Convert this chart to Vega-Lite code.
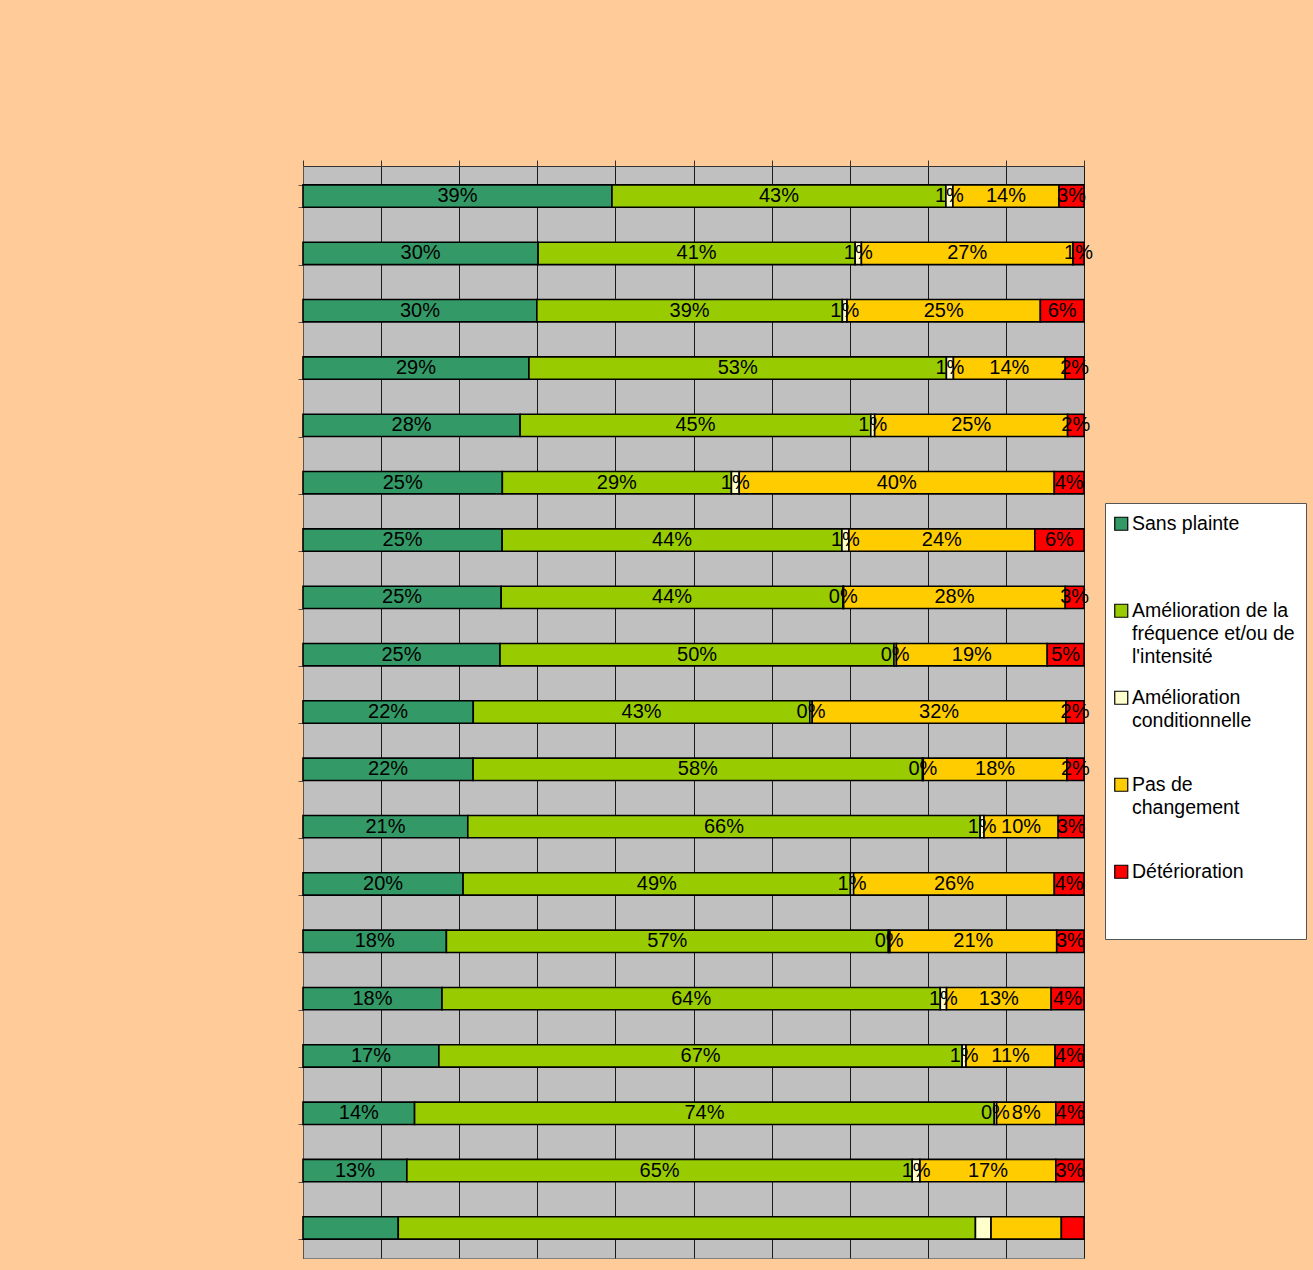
{
  "$schema": "https://vega.github.io/schema/vega-lite/v6.json",
  "autosize": {"type": "none"},
  "padding": {"left": 303, "top": 166, "right": 229, "bottom": 12},
  "width": 781,
  "height": 1092,
  "background": "#FFCC99",
  "config": {
    "view": {"fill": "#C0C0C0", "stroke": "#808080", "strokeWidth": 1},
    "font": "Liberation Sans"
  },
  "data": {
    "values": [
      {"q": 1, "s": "Sans plainte", "k": 1, "v": 39.6, "l": "39%"},
      {"q": 1, "s": "Amélioration de la fréquence et/ou de l'intensité", "k": 2, "v": 42.8, "l": "43%"},
      {"q": 1, "s": "Amélioration conditionnelle", "k": 3, "v": 0.9, "l": "1%"},
      {"q": 1, "s": "Pas de changement", "k": 4, "v": 13.6, "l": "14%"},
      {"q": 1, "s": "Détérioration", "k": 5, "v": 3.2, "l": "3%"},
      {"q": 2, "s": "Sans plainte", "k": 1, "v": 30.1, "l": "30%"},
      {"q": 2, "s": "Amélioration de la fréquence et/ou de l'intensité", "k": 2, "v": 40.6, "l": "41%"},
      {"q": 2, "s": "Amélioration conditionnelle", "k": 3, "v": 0.8, "l": "1%"},
      {"q": 2, "s": "Pas de changement", "k": 4, "v": 27.1, "l": "27%"},
      {"q": 2, "s": "Détérioration", "k": 5, "v": 1.4, "l": "1%"},
      {"q": 3, "s": "Sans plainte", "k": 1, "v": 30.0, "l": "30%"},
      {"q": 3, "s": "Amélioration de la fréquence et/ou de l'intensité", "k": 2, "v": 39.2, "l": "39%"},
      {"q": 3, "s": "Amélioration conditionnelle", "k": 3, "v": 0.6, "l": "1%"},
      {"q": 3, "s": "Pas de changement", "k": 4, "v": 24.8, "l": "25%"},
      {"q": 3, "s": "Détérioration", "k": 5, "v": 5.6, "l": "6%"},
      {"q": 4, "s": "Sans plainte", "k": 1, "v": 28.9, "l": "29%"},
      {"q": 4, "s": "Amélioration de la fréquence et/ou de l'intensité", "k": 2, "v": 53.4, "l": "53%"},
      {"q": 4, "s": "Amélioration conditionnelle", "k": 3, "v": 0.9, "l": "1%"},
      {"q": 4, "s": "Pas de changement", "k": 4, "v": 14.3, "l": "14%"},
      {"q": 4, "s": "Détérioration", "k": 5, "v": 2.4, "l": "2%"},
      {"q": 5, "s": "Sans plainte", "k": 1, "v": 27.8, "l": "28%"},
      {"q": 5, "s": "Amélioration de la fréquence et/ou de l'intensité", "k": 2, "v": 44.9, "l": "45%"},
      {"q": 5, "s": "Amélioration conditionnelle", "k": 3, "v": 0.5, "l": "1%"},
      {"q": 5, "s": "Pas de changement", "k": 4, "v": 24.7, "l": "25%"},
      {"q": 5, "s": "Détérioration", "k": 5, "v": 2.1, "l": "2%"},
      {"q": 6, "s": "Sans plainte", "k": 1, "v": 25.5, "l": "25%"},
      {"q": 6, "s": "Amélioration de la fréquence et/ou de l'intensité", "k": 2, "v": 29.3, "l": "29%"},
      {"q": 6, "s": "Amélioration conditionnelle", "k": 3, "v": 1.0, "l": "1%"},
      {"q": 6, "s": "Pas de changement", "k": 4, "v": 40.3, "l": "40%"},
      {"q": 6, "s": "Détérioration", "k": 5, "v": 3.8, "l": "4%"},
      {"q": 7, "s": "Sans plainte", "k": 1, "v": 25.5, "l": "25%"},
      {"q": 7, "s": "Amélioration de la fréquence et/ou de l'intensité", "k": 2, "v": 43.5, "l": "44%"},
      {"q": 7, "s": "Amélioration conditionnelle", "k": 3, "v": 0.9, "l": "1%"},
      {"q": 7, "s": "Pas de changement", "k": 4, "v": 23.8, "l": "24%"},
      {"q": 7, "s": "Détérioration", "k": 5, "v": 6.3, "l": "6%"},
      {"q": 8, "s": "Sans plainte", "k": 1, "v": 25.4, "l": "25%"},
      {"q": 8, "s": "Amélioration de la fréquence et/ou de l'intensité", "k": 2, "v": 43.8, "l": "44%"},
      {"q": 8, "s": "Amélioration conditionnelle", "k": 3, "v": 0.1, "l": "0%"},
      {"q": 8, "s": "Pas de changement", "k": 4, "v": 28.4, "l": "28%"},
      {"q": 8, "s": "Détérioration", "k": 5, "v": 2.4, "l": "3%"},
      {"q": 9, "s": "Sans plainte", "k": 1, "v": 25.2, "l": "25%"},
      {"q": 9, "s": "Amélioration de la fréquence et/ou de l'intensité", "k": 2, "v": 50.4, "l": "50%"},
      {"q": 9, "s": "Amélioration conditionnelle", "k": 3, "v": 0.3, "l": "0%"},
      {"q": 9, "s": "Pas de changement", "k": 4, "v": 19.3, "l": "19%"},
      {"q": 9, "s": "Détérioration", "k": 5, "v": 4.7, "l": "5%"},
      {"q": 10, "s": "Sans plainte", "k": 1, "v": 21.8, "l": "22%"},
      {"q": 10, "s": "Amélioration de la fréquence et/ou de l'intensité", "k": 2, "v": 43.1, "l": "43%"},
      {"q": 10, "s": "Amélioration conditionnelle", "k": 3, "v": 0.3, "l": "0%"},
      {"q": 10, "s": "Pas de changement", "k": 4, "v": 32.5, "l": "32%"},
      {"q": 10, "s": "Détérioration", "k": 5, "v": 2.3, "l": "2%"},
      {"q": 11, "s": "Sans plainte", "k": 1, "v": 21.8, "l": "22%"},
      {"q": 11, "s": "Amélioration de la fréquence et/ou de l'intensité", "k": 2, "v": 57.6, "l": "58%"},
      {"q": 11, "s": "Amélioration conditionnelle", "k": 3, "v": 0.1, "l": "0%"},
      {"q": 11, "s": "Pas de changement", "k": 4, "v": 18.4, "l": "18%"},
      {"q": 11, "s": "Détérioration", "k": 5, "v": 2.2, "l": "2%"},
      {"q": 12, "s": "Sans plainte", "k": 1, "v": 21.1, "l": "21%"},
      {"q": 12, "s": "Amélioration de la fréquence et/ou de l'intensité", "k": 2, "v": 65.6, "l": "66%"},
      {"q": 12, "s": "Amélioration conditionnelle", "k": 3, "v": 0.5, "l": "1%"},
      {"q": 12, "s": "Pas de changement", "k": 4, "v": 9.5, "l": "10%"},
      {"q": 12, "s": "Détérioration", "k": 5, "v": 3.3, "l": "3%"},
      {"q": 13, "s": "Sans plainte", "k": 1, "v": 20.5, "l": "20%"},
      {"q": 13, "s": "Amélioration de la fréquence et/ou de l'intensité", "k": 2, "v": 49.6, "l": "49%"},
      {"q": 13, "s": "Amélioration conditionnelle", "k": 3, "v": 0.4, "l": "1%"},
      {"q": 13, "s": "Pas de changement", "k": 4, "v": 25.7, "l": "26%"},
      {"q": 13, "s": "Détérioration", "k": 5, "v": 3.8, "l": "4%"},
      {"q": 14, "s": "Sans plainte", "k": 1, "v": 18.4, "l": "18%"},
      {"q": 14, "s": "Amélioration de la fréquence et/ou de l'intensité", "k": 2, "v": 56.7, "l": "57%"},
      {"q": 14, "s": "Amélioration conditionnelle", "k": 3, "v": 0.2, "l": "0%"},
      {"q": 14, "s": "Pas de changement", "k": 4, "v": 21.4, "l": "21%"},
      {"q": 14, "s": "Détérioration", "k": 5, "v": 3.5, "l": "3%"},
      {"q": 15, "s": "Sans plainte", "k": 1, "v": 17.8, "l": "18%"},
      {"q": 15, "s": "Amélioration de la fréquence et/ou de l'intensité", "k": 2, "v": 63.8, "l": "64%"},
      {"q": 15, "s": "Amélioration conditionnelle", "k": 3, "v": 0.8, "l": "1%"},
      {"q": 15, "s": "Pas de changement", "k": 4, "v": 13.4, "l": "13%"},
      {"q": 15, "s": "Détérioration", "k": 5, "v": 4.2, "l": "4%"},
      {"q": 16, "s": "Sans plainte", "k": 1, "v": 17.4, "l": "17%"},
      {"q": 16, "s": "Amélioration de la fréquence et/ou de l'intensité", "k": 2, "v": 67.0, "l": "67%"},
      {"q": 16, "s": "Amélioration conditionnelle", "k": 3, "v": 0.5, "l": "1%"},
      {"q": 16, "s": "Pas de changement", "k": 4, "v": 11.4, "l": "11%"},
      {"q": 16, "s": "Détérioration", "k": 5, "v": 3.7, "l": "4%"},
      {"q": 17, "s": "Sans plainte", "k": 1, "v": 14.3, "l": "14%"},
      {"q": 17, "s": "Amélioration de la fréquence et/ou de l'intensité", "k": 2, "v": 74.3, "l": "74%"},
      {"q": 17, "s": "Amélioration conditionnelle", "k": 3, "v": 0.3, "l": "0%"},
      {"q": 17, "s": "Pas de changement", "k": 4, "v": 7.6, "l": "8%"},
      {"q": 17, "s": "Détérioration", "k": 5, "v": 3.6, "l": "4%"},
      {"q": 18, "s": "Sans plainte", "k": 1, "v": 13.3, "l": "13%"},
      {"q": 18, "s": "Amélioration de la fréquence et/ou de l'intensité", "k": 2, "v": 64.7, "l": "65%"},
      {"q": 18, "s": "Amélioration conditionnelle", "k": 3, "v": 1.0, "l": "1%"},
      {"q": 18, "s": "Pas de changement", "k": 4, "v": 17.4, "l": "17%"},
      {"q": 18, "s": "Détérioration", "k": 5, "v": 3.6, "l": "3%"},
      {"q": 19, "s": "Sans plainte", "k": 1, "v": 12.2, "l": ""},
      {"q": 19, "s": "Amélioration de la fréquence et/ou de l'intensité", "k": 2, "v": 73.9, "l": ""},
      {"q": 19, "s": "Amélioration conditionnelle", "k": 3, "v": 2.0, "l": ""},
      {"q": 19, "s": "Pas de changement", "k": 4, "v": 9.0, "l": ""},
      {"q": 19, "s": "Détérioration", "k": 5, "v": 2.9, "l": ""}
    ]
  },
  "encoding": {
    "y": {
      "field": "q",
      "type": "ordinal",
      "sort": "ascending",
      "scale": {"paddingInner": 0.61, "paddingOuter": 0.33},
      "axis": {
        "title": null,
        "labels": false,
        "ticks": true,
        "tickBand": "extent",
        "tickSize": 5,
        "tickColor": "#555555",
        "domain": true,
        "domainColor": "#555555",
        "grid": false
      }
    }
  },
  "layer": [
    {
      "mark": {"type": "bar", "stroke": "#000000", "strokeWidth": 1.6},
      "encoding": {
        "x": {
          "field": "v",
          "type": "quantitative",
          "stack": "normalize",
          "scale": {"domain": [0, 1], "nice": false},
          "axis": {
            "orient": "top",
            "title": null,
            "labels": false,
            "ticks": true,
            "tickSize": 6,
            "tickColor": "#333333",
            "domain": true,
            "domainColor": "#333333",
            "grid": true,
            "gridColor": "#1a1a1a",
            "gridWidth": 1,
            "gridOpacity": 1,
            "values": [0, 0.1, 0.2, 0.3, 0.4, 0.5, 0.6, 0.7, 0.8, 0.9, 1]
          }
        },
        "color": {
          "field": "s",
          "type": "nominal",
          "scale": {
            "domain": ["Sans plainte", "Amélioration de la fréquence et/ou de l'intensité", "Amélioration conditionnelle", "Pas de changement", "Détérioration"],
            "range": ["#339966", "#99CC00", "#FFFFCC", "#FFCC00", "#FF0000"]
          },
          "legend": {
            "title": null,
            "orient": "none",
            "legendX": 802,
            "legendY": 337,
            "direction": "vertical",
            "padding": 11,
            "fillColor": "#FFFFFF",
            "strokeColor": "#555555",
            "symbolType": "square",
            "symbolSize": 169,
            "symbolOffset": -4.5,
            "symbolStrokeColor": "#000000",
            "symbolStrokeWidth": 1.2,
            "symbolOpacity": 1,
            "labelFont": "Liberation Sans",
            "labelFontSize": 19.5,
            "labelColor": "#000000",
            "labelOffset": 1,
            "labelLimit": 300,
            "labelBaseline": "top",
            "rowPadding": 20,
            "labelExpr": "datum.value == 'Sans plainte' ? ['Sans plainte', '', ''] : datum.value == 'Pas de changement' ? ['Pas de', 'changement', ''] : datum.value == 'Détérioration' ? ['Détérioration', '', ''] : datum.value == 'Amélioration conditionnelle' ? ['Amélioration', 'conditionnelle', ''] : ['Amélioration de la', 'fréquence et/ou de', \"l'intensité\"]",
            "encode": {
              "labels": {"update": {"dy": {"value": -9}, "lineHeight": {"value": 23}}}
            }
          }
        },
        "order": {"field": "k", "type": "quantitative"}
      }
    },
    {
      "mark": {"type": "text", "font": "Liberation Sans", "fontSize": 20, "color": "#000000", "baseline": "middle", "align": "center"},
      "encoding": {
        "x": {"field": "v", "type": "quantitative", "stack": "normalize", "bandPosition": 0.5},
        "detail": {"field": "s"},
        "order": {"field": "k", "type": "quantitative"},
        "text": {"field": "l"}
      }
    }
  ]
}
